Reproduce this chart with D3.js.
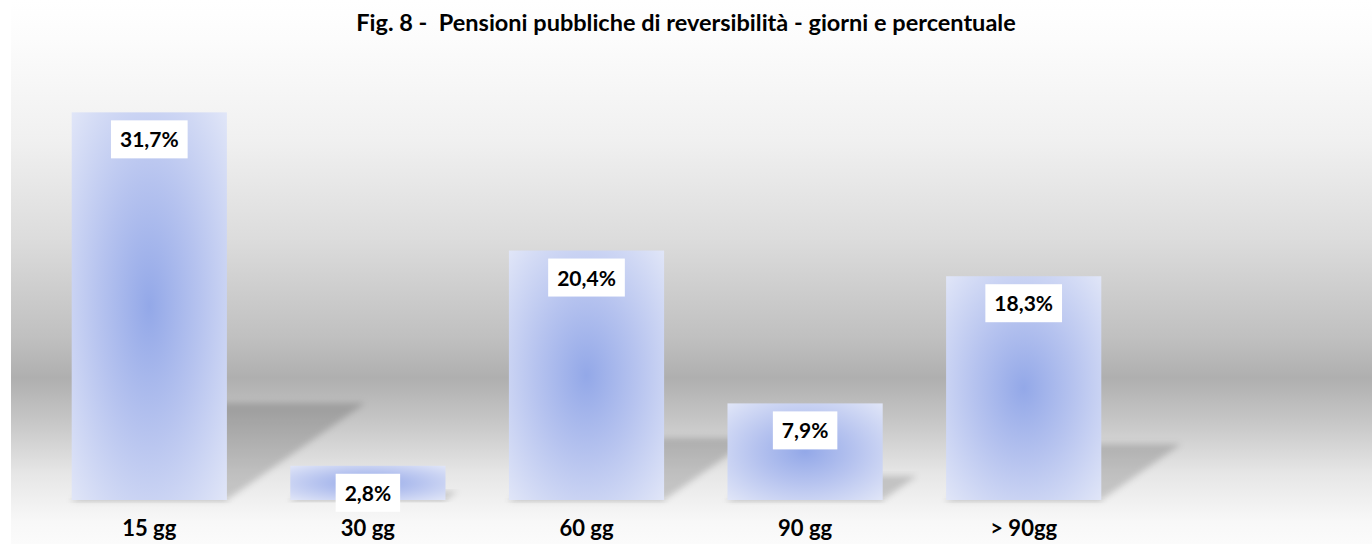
<!DOCTYPE html>
<html>
<head>
<meta charset="utf-8">
<script src="https://cdn.jsdelivr.net/npm/d3@7"></script>
<style>
  body { margin: 0; background: #fff; }
  text { font-family: Lato, "Open Sans", sans-serif; font-weight: bold; fill: #000; white-space: pre; }
</style>
</head>
<body>
<script>
let categories = ['15 gg', '30 gg', '60 gg', '90 gg', '> 90gg'];
let values = [31.7, 2.8, 20.4, 7.9, 18.3];
let valueLabels = ['31,7%', '2,8%', '20,4%', '7,9%', '18,3%'];
let title = 'Fig. 8 -  Pensioni pubbliche di reversibilità - giorni e percentuale';

let width = 1372,
    height = 544;

let margin = {
  top: 72,
  bottom: 44,
  left: 40,
  right: 239
};

let svg = d3
  .select('body')
  .append('svg')
    .attr('width', width)
    .attr('height', height);

let defs = svg.append('defs');

// background: grey band that fades to white top and bottom
let bg = defs.append('linearGradient')
  .attr('id', 'bg')
  .attr('x1', 0).attr('y1', 0).attr('x2', 0).attr('y2', 1);
[[0, '#ffffff'], [0.07, '#fcfcfc'], [0.26, '#f0f0f0'], [0.44, '#dcdcdc'],
 [0.62, '#c0c0c0'], [0.695, '#afafaf'], [0.78, '#c8c8c8'], [0.87, '#e6e6e6'],
 [0.96, '#f8f8f8'], [1, '#fbfbfb']].forEach(s => {
  bg.append('stop').attr('offset', s[0]).attr('stop-color', s[1]);
});

let barFill = defs.append('radialGradient')
  .attr('id', 'barFill')
  .attr('cx', 0.5).attr('cy', 0.5).attr('r', 0.72);
barFill.append('stop').attr('offset', 0).attr('stop-color', '#93a8e8');
barFill.append('stop').attr('offset', 0.45).attr('stop-color', '#b6c3ef');
barFill.append('stop').attr('offset', 1).attr('stop-color', '#e2e7f8');

defs.append('filter')
  .attr('id', 'blur')
  .attr('x', '-20%').attr('y', '-20%').attr('width', '140%').attr('height', '140%')
  .append('feGaussianBlur')
  .attr('stdDeviation', 3);

svg.append('rect')
  .attr('x', 11)
  .attr('y', 0)
  .attr('width', width - 11)
  .attr('height', height)
  .attr('fill', 'url(#bg)');

svg.append('text')
  .attr('x', width / 2)
  .attr('y', 31)
  .attr('text-anchor', 'middle')
  .style('font-size', '23.5px')
  .text(title);

let xScale = d3.scaleBand()
  .domain(categories)
  .range([margin.left, width - margin.right])
  .paddingInner(0.29)
  .paddingOuter(0.145);

let yScale = d3.scaleLinear()
  .domain([0, 35])
  .range([height - margin.bottom, margin.top]);

let data = categories.map((c, i) => ({ cat: c, value: values[i], label: valueLabels[i] }));

// perspective shadows behind the bars
svg.append('g')
  .selectAll('path')
  .data(data)
  .enter()
  .append('path')
  .attr('d', d => {
    let x0 = xScale(d.cat),
        x1 = x0 + xScale.bandwidth(),
        yb = yScale(0),
        hs = 0.25 * (yScale(0) - yScale(d.value)),
        s = 1.43 * hs;
    return `M${x0},${yb}L${x1},${yb}L${x1 + s},${yb - hs}L${x0 + s},${yb - hs}Z`;
  })
  .attr('fill', '#000')
  .attr('fill-opacity', 0.17)
  .attr('filter', 'url(#blur)');

// small soft shadow under each bar
svg.append('g')
  .selectAll('rect')
  .data(data)
  .enter()
  .append('rect')
  .attr('x', d => xScale(d.cat))
  .attr('y', yScale(0) - 1)
  .attr('width', xScale.bandwidth())
  .attr('height', 3)
  .attr('fill', '#000')
  .attr('fill-opacity', 0.12)
  .attr('filter', 'url(#blur)');

svg.append('g')
  .selectAll('rect')
  .data(data)
  .enter()
  .append('rect')
  .attr('x', d => xScale(d.cat))
  .attr('y', d => yScale(d.value))
  .attr('width', xScale.bandwidth())
  .attr('height', d => yScale(0) - yScale(d.value))
  .attr('fill', 'url(#barFill)');

// value labels in white boxes
let labels = svg.append('g')
  .selectAll('g')
  .data(data)
  .enter()
  .append('g')
  .attr('transform', d => `translate(${xScale(d.cat) + xScale.bandwidth() / 2},${yScale(d.value) + 8})`);

labels.append('text')
  .attr('y', 27)
  .attr('text-anchor', 'middle')
  .style('font-size', '21px')
  .text(d => d.label);

labels.each(function() {
  let g = d3.select(this);
  let w = g.select('text').node().getComputedTextLength() + 18;
  g.insert('rect', 'text')
    .attr('x', -w / 2)
    .attr('y', 0)
    .attr('width', w)
    .attr('height', 38)
    .attr('fill', '#fff');
});

// category labels
svg.append('g')
  .selectAll('text')
  .data(data)
  .enter()
  .append('text')
  .attr('x', d => xScale(d.cat) + xScale.bandwidth() / 2)
  .attr('y', 536)
  .attr('text-anchor', 'middle')
  .style('font-size', '22px')
  .text(d => d.cat);
</script>
</body>
</html>
